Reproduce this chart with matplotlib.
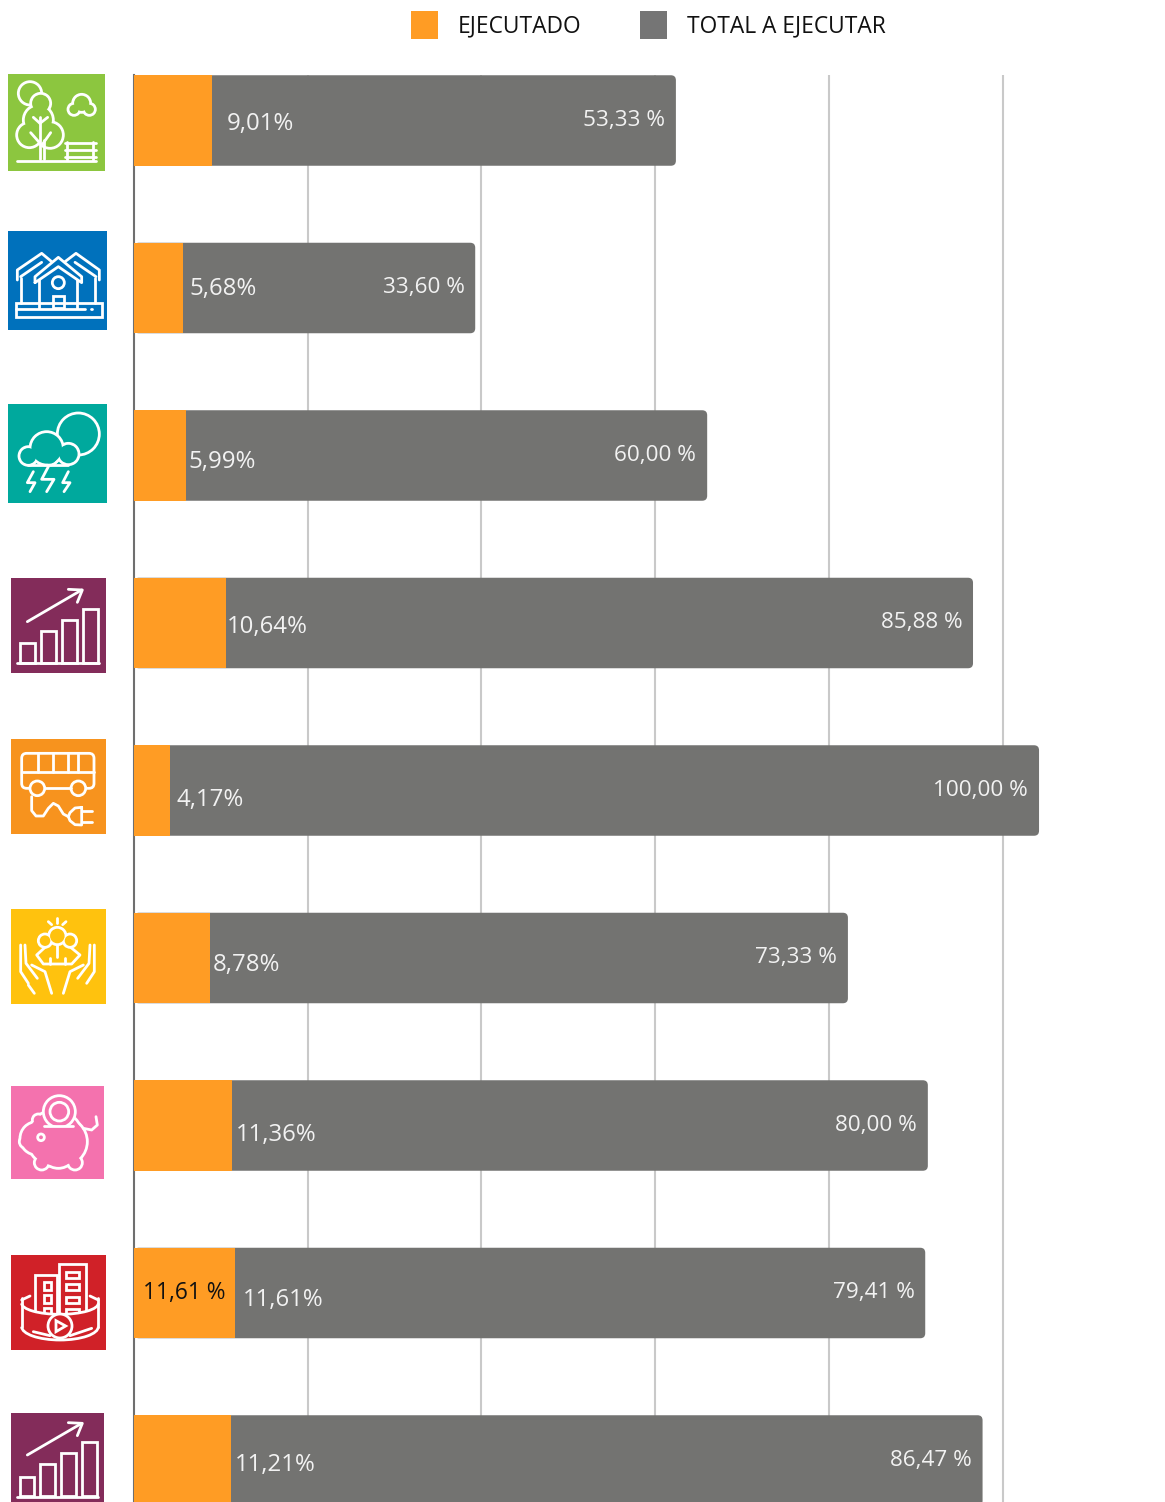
import numpy as np
import matplotlib
matplotlib.use("Agg")
import matplotlib.pyplot as plt
from matplotlib.patches import Rectangle, Circle, Ellipse, FancyBboxPatch, Patch, Polygon, Arc

plt.rcParams['font.family'] = ['Open Sans', 'DejaVu Sans']

ejecutado = [9.01, 5.68, 5.99, 10.64, 4.17, 8.78, 11.36, 11.61, 11.21]
total_bar = [62.4, 39.3, 66.0, 96.6, 104.2, 82.2, 91.4, 91.1, 97.7]
total_labels = ["53,33 %", "33,60 %", "60,00 %", "85,88 %", "100,00 %",
                "73,33 %", "80,00 %", "79,41 %", "86,47 %"]
ejec_labels = ["9,01%", "5,68%", "5,99%", "10,64%", "4,17%",
               "8,78%", "11,36%", "11,61%", "11,21%"]
grid_ticks = [20, 40, 60, 80, 100]

ORANGE = "#ff9c24"
GRAY = "#737371"
W, H = 1165, 1502
PX = 8.6875    # pixels per axis unit
ROW = 167.5    # pixels per row
X0 = 133.8

fig = plt.figure(figsize=(W / 100, H / 100), dpi=100)
ax = fig.add_axes([X0 / W, 0, 1 - X0 / W, 1 - 75 / H])
ax.set_xlim(0, (W - X0) / PX)
ax.set_ylim((1502 - 120.5) / ROW, -45.5 / ROW)
for s in ['top', 'right', 'bottom']:
    ax.spines[s].set_visible(False)
ax.spines['left'].set_color("#6f6f6f")
ax.spines['left'].set_linewidth(1.5)
ax.set_xticks(grid_ticks)
ax.set_yticks([])
ax.tick_params(length=0, labelbottom=False)
ax.grid(axis='x', color="#c9c9c9", linewidth=1.5)
ax.set_axisbelow(True)

# inner label nudges, in pixels, since the source places them by hand
inner_dx = [15, 6, 3, 1, 6, 3, 3, 8, 4]
inner_dy = [4, 1, 7, 4, 10, 7, 9, 7, 5]

rows = list(range(len(ejecutado)))
bars = ax.barh(rows, total_bar, height=90.5 / ROW, color=GRAY, zorder=2)
# swap the square bars for ones with rounded ends
for b in bars:
    b.set_visible(False)
    ax.add_patch(FancyBboxPatch((b.get_x(), b.get_y()), b.get_width(), b.get_height(),
                                boxstyle="round,pad=0,rounding_size=%f" % (5 / PX),
                                mutation_aspect=PX / ROW, fc=GRAY, ec="none", zorder=2))
ax.barh(rows, ejecutado, height=90.5 / ROW, color=ORANGE, zorder=3)

for i in rows:
    ax.annotate(ejec_labels[i], (ejecutado[i], i),
                xytext=(inner_dx[i] * 0.72, -inner_dy[i] * 0.72), textcoords='offset points',
                ha='left', va='center', color="#f2f2f2", fontsize=17.3, zorder=5)
    ax.annotate(total_labels[i], (total_bar[i], i), xytext=(-7.8, 0.3), textcoords='offset points',
                ha='right', va='center', color="#f2f2f2", fontsize=16.2, zorder=5)
ax.annotate("11,61 %", (ejecutado[7], 7), xytext=(-6.8, 0.3), textcoords='offset points',
            ha='right', va='center', color="#111111", fontsize=16.4, zorder=5)

fig.legend(handles=[Patch(fc=ORANGE, label="EJECUTADO"), Patch(fc="#757575", label="TOTAL A EJECUTAR")],
           ncol=2, frameon=False, fontsize=16.4, loc='center left',
           bbox_to_anchor=(411 / W, 1 - 25 / H), bbox_transform=fig.transFigure,
           borderaxespad=0, borderpad=0, handlelength=1.18, handleheight=1.5,
           handletextpad=0.88, columnspacing=2.55, labelcolor="#111111")

# icons, on an overlay in pixel coordinates
ic = fig.add_axes([0, 0, 1, 1], zorder=10)
ic.set_xlim(0, W)
ic.set_ylim(H, 0)
ic.axis('off')
ic.patch.set_alpha(0)
LW = 2.0


def box(x0, x1, y0, y1, c):
    ic.add_patch(Rectangle((x0, y0), x1 - x0, y1 - y0, fc=c, ec="none"))


def line(oy, *pts, lw=LW):
    ic.plot([p[0] / 3 for p in pts], [oy + p[1] / 3 for p in pts], color="white", lw=lw,
            solid_capstyle='round', solid_joinstyle='round')


def rect(oy, x0, y0, x1, y1, fc="none"):
    ic.add_patch(Rectangle((x0 / 3, oy + y0 / 3), (x1 - x0) / 3, (y1 - y0) / 3, fc=fc, ec="white", lw=LW))


def circ(oy, x, y, r, fc="none"):
    ic.add_patch(Circle((x / 3, oy + y / 3), r / 3, fc=fc, ec="white", lw=LW))


def blob(oy, circles, bg):
    # union outline: white discs, then smaller background discs on top
    for x, y, r in circles:
        ic.add_patch(Circle((x / 3, oy + y / 3), r / 3 + 1.4, fc="white", ec="none"))
    for x, y, r in circles:
        ic.add_patch(Circle((x / 3, oy + y / 3), r / 3 - 1.4, fc=bg, ec="none"))


def chart_icon(oy, dy, xs):
    line(oy, (82, 155 + dy), (245, 60 + dy))
    line(oy, (205, 58 + dy), (247, 60 + dy), (232, 97 + dy))
    tops = [220, 183, 150, 117]
    for (a, b), t in zip(xs, tops):
        rect(oy, a, t + dy, b, 278 + dy)
    line(oy, (52, 280 + dy), (xs[-1][1] + 4, 280 + dy))


# park
c = "#8cc63f"
box(8, 105, 74, 171, c)
blob(60, [(90, 100, 35)], c)
blob(60, [(122, 130, 30), (115, 180, 45), (88, 225, 38), (150, 225, 40)], c)
blob(60, [(245, 130, 27), (222, 148, 18), (268, 148, 18)], c)
line(60, (120, 170), (120, 298))
line(60, (132, 240), (132, 298))
line(60, (120, 190), (100, 172))
line(60, (120, 190), (143, 172))
line(60, (122, 252), (92, 218))
line(60, (128, 252), (152, 218))
line(60, (52, 302), (288, 302))
for yy in (250, 270, 290):
    line(60, (195, yy), (288, yy))
line(60, (200, 245), (200, 300))
line(60, (278, 245), (278, 300))

# houses
box(8, 107, 231, 330, "#0071bc")
oy = 60
line(oy, (52, 660), (52, 630), (125, 580), (155, 605))
line(oy, (195, 605), (228, 580), (298, 630), (298, 660))
line(oy, (62, 650), (125, 607))
line(oy, (225, 607), (288, 650))
line(oy, (105, 668), (105, 650), (175, 592), (245, 650), (245, 668), (175, 620), (105, 668))
line(oy, (118, 660), (118, 745))
line(oy, (232, 660), (232, 745))
line(oy, (62, 655), (62, 728))
line(oy, (285, 655), (285, 728))
circ(oy, 175, 668, 18)
rect(oy, 158, 708, 192, 745)
rect(oy, 47, 728, 305, 772)
line(oy, (47, 748), (255, 748))
line(oy, (274, 748), (275, 748))

# storm
c = "#00a99d"
box(8, 107, 404, 503, c)
circ(60, 235, 1122, 63)
ic.add_patch(Rectangle((52 / 3, 60 + 1165 / 3), 185 / 3, 50 / 3, fc=c, ec="none"))
blob(60, [(140, 1165, 50), (205, 1182, 32), (85, 1188, 28), (150, 1190, 25)], c)
line(60, (85, 1215), (205, 1215))
line(60, (100, 1235), (82, 1268), (105, 1268), (90, 1295))
line(60, (145, 1220), (125, 1258), (162, 1258), (140, 1295))
line(60, (205, 1235), (188, 1268), (210, 1268), (192, 1295))

# growth, twice
box(11, 106, 578, 673, "#832c5a")
chart_icon(570, 0, [(60, 105), (123, 167), (186, 230), (250, 294)])

# bus
c = "#f7931e"
box(11, 106, 739, 834, c)
oy = 570
ic.add_patch(FancyBboxPatch((65 / 3, oy + 550 / 3), 217 / 3, 105 / 3,
                            boxstyle="round,pad=0,rounding_size=5", fc="none", ec="white", lw=LW))
line(oy, (65, 605), (282, 605))
for xx in (115, 160, 205, 235):
    line(oy, (xx, 550), (xx, 605))
ic.add_patch(Rectangle((136 / 3, oy + 640 / 3), 74 / 3, 30 / 3, fc=c, ec="none"))
circ(oy, 112, 655, 22, fc=c)
circ(oy, 235, 655, 22, fc=c)
line(oy, (135, 655), (212, 655))
line(oy, (95, 680), (95, 722), (108, 738), (130, 738), (145, 715), (160, 700),
     (175, 708), (190, 732), (205, 740))
line(oy, (245, 712), (225, 714), (210, 728), (205, 740), (210, 752), (225, 764), (245, 765), (245, 712))
line(oy, (245, 722), (275, 722))
line(oy, (245, 755), (275, 755))

# hands
c = "#ffc20e"
box(11, 106, 909, 1004, c)
oy = 570
blob(oy, [(172, 1098, 26), (135, 1112, 20), (210, 1112, 20)], c)
line(oy, (135, 1132), (110, 1155), (130, 1182), (215, 1182), (240, 1155), (212, 1132))
line(oy, (172, 1125), (172, 1160))
line(oy, (150, 1182), (150, 1165))
line(oy, (195, 1182), (195, 1165))
line(oy, (172, 1045), (172, 1058))
line(oy, (145, 1055), (155, 1064))
line(oy, (198, 1055), (188, 1064))
for sgn in (1, -1):
    f = (lambda v: v) if sgn == 1 else (lambda v: 345 - v)
    line(oy, (f(62), 1125), (f(62), 1205), (f(85), 1240))
    line(oy, (f(75), 1125), (f(78), 1180), (f(112), 1225))
    line(oy, (f(95), 1185), (f(135), 1205), (f(155), 1270))
line(oy, (85, 1245), (103, 1270))

# piggy bank
c = "#f472ae"
box(11, 104, 1086, 1179, c)
oy = 1070
line(oy, (250, 175), (275, 180), (292, 165), (288, 140))
blob(oy, [(165, 205, 85), (190, 215, 72), (110, 205, 50), (78, 215, 20), (115, 150, 18),
          (125, 278, 22), (225, 278, 22), (175, 240, 55)], c)
circ(oy, 178, 125, 48, fc=c)
circ(oy, 178, 125, 28)
ic.add_patch(Rectangle((125 / 3, oy + 170 / 3), 100 / 3, 20 / 3, fc=c, ec="none"))
line(oy, (132, 168), (220, 168))
circ(oy, 123, 202, 10)

# city
c = "#d02128"
box(11, 106, 1255, 1350, c)
rect(oy, 105, 615, 170, 745)
rect(oy, 178, 582, 258, 745)
for yy in (635, 675, 715):
    rect(oy, 132, yy, 152, yy + 25)
for yy in (607, 642, 680, 718):
    rect(oy, 198, yy, 238, yy + 18)
# band in front of the towers: only the part under the upper arc is filled
t = np.linspace(0, np.pi, 40)
band = [(60 + 115 / 3 * np.cos(a), oy + 700 / 3 + 11 * np.sin(a)) for a in t]
band += [(60 + 115 / 3 * np.cos(a), oy + 770 / 3 + 13.3 * np.sin(a)) for a in t[::-1]]
ic.add_patch(Polygon(band, closed=True, fc=c, ec="none"))
ic.add_patch(Arc((180 / 3, oy + 700 / 3), 230 / 3, 66 / 3, theta1=0, theta2=180, ec="white", lw=LW))
ic.add_patch(Arc((180 / 3, oy + 770 / 3), 230 / 3, 80 / 3, theta1=0, theta2=180, ec="white", lw=LW))
line(oy, (65, 685), (65, 770))
line(oy, (295, 685), (295, 770))
line(oy, (65, 690), (90, 678))
line(oy, (295, 690), (270, 678))
line(oy, (100, 785), (150, 797))
line(oy, (210, 797), (275, 775))
circ(oy, 180, 768, 36, fc=c)
ic.add_patch(Polygon([(168 / 3, oy + 752 / 3), (168 / 3, oy + 785 / 3), (197 / 3, oy + 768 / 3)],
                     closed=True, fc="none", ec="white", lw=LW))

box(11, 104, 1413, 1506, "#832c5a")
chart_icon(1070, 1000, [(60, 103), (120, 164), (183, 227), (247, 290)])

fig.savefig("out.png", dpi=100)
